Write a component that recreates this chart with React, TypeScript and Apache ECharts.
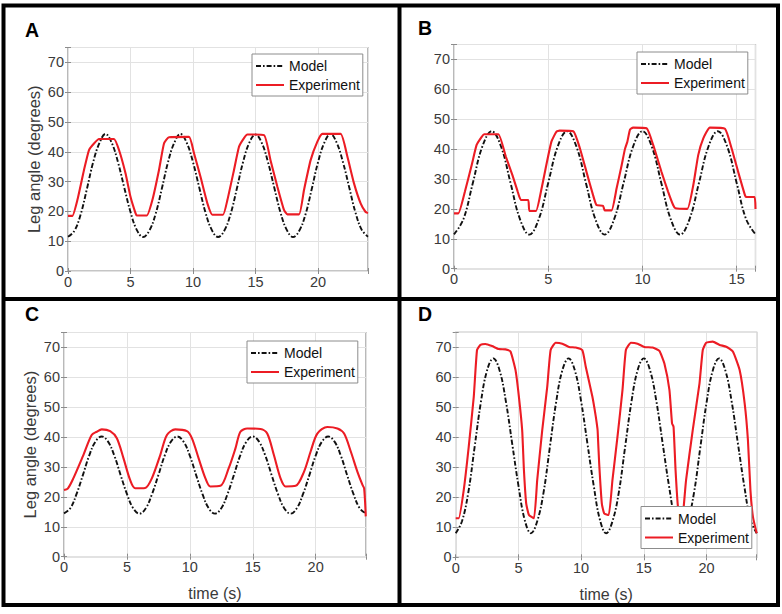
import React, { useEffect, useRef } from "react";
import * as echarts from "echarts";

const FONT = '"Liberation Sans", Arial, Helvetica, sans-serif';

type P = [number, number][];

// ---- Panel A (0–24 s) ----
const modelA: P = [
  [0, 11.5], [0.5, 13.4], [1, 18.8], [1.5, 27.3], [2, 36.3], [2.5, 42.8], [3, 46], [3.5, 43], [4, 36.5], [4.5, 28], [5, 19.8], [5.5, 13.8],
  [6, 11.4], [6.5, 13.5], [7, 19], [7.5, 27.5], [8, 36.5], [8.5, 43], [9, 46], [9.5, 43], [10, 36.5], [10.5, 28], [11, 19.6], [11.5, 13.8],
  [12, 11.4], [12.5, 13.5], [13, 19], [13.5, 27.5], [14, 36.5], [14.5, 43], [15, 45.8], [15.5, 43], [16, 36.5], [16.5, 28], [17, 19.6], [17.5, 13.8],
  [18, 11.4], [18.5, 13.5], [19, 19], [19.5, 27.5], [20, 36.5], [20.5, 43], [21, 46], [21.5, 43], [22, 36.5], [22.5, 28], [23, 19.6], [23.5, 13.8],
  [24, 11.5],
];
const expA: P = [
  [0, 18.5], [0.35, 18.5], [0.75, 23.8], [1.28, 33.9], [1.68, 40.6], [2.08, 42.8], [2.48, 44.3], [3.68, 44.3], [4.08, 40.6], [4.6, 32.8],
  [5.0, 24.9], [5.4, 19.4], [5.5, 18.6], [6.3, 18.6], [6.75, 23.8], [7.28, 33.9], [7.68, 42.8], [8.08, 44.9], [9.68, 45], [10.08, 39.5],
  [10.6, 31.6], [11.15, 22.7], [11.55, 18.9], [12.4, 18.9], [12.75, 23.8], [13.28, 33.9], [13.68, 41.7], [14.08, 44.6], [14.35, 45.8],
  [15.68, 45.6], [16.2, 37.2], [16.75, 28.3], [17.28, 20.5], [17.55, 19], [18.48, 19], [18.88, 27.2], [19.41, 37.2], [19.95, 43.4],
  [20.35, 46], [21.81, 46], [22.35, 38.4], [22.88, 29.4], [23.41, 22.7], [23.81, 19.8], [24, 19.5],
];

// ---- Panel B (0–16 s) ----
const modelB: P = [
  [0, 11.5], [0.5, 16.6], [1, 28.7], [1.5, 40.8], [2, 46], [2.5, 40.8], [3, 28.7], [3.5, 16.6],
  [4, 11.4], [4.5, 16.6], [5, 28.7], [5.5, 40.8], [6, 46], [6.5, 40.8], [7, 28.7], [7.5, 16.6],
  [8, 11.4], [8.5, 16.6], [9, 28.7], [9.5, 40.8], [10, 46], [10.5, 40.8], [11, 28.7], [11.5, 16.6],
  [12, 11.4], [12.5, 16.6], [13, 28.7], [13.5, 40.8], [14, 46], [14.5, 40.8], [15, 28.7], [15.5, 16.6],
  [16, 11.5],
];
const expB: P = [
  [0, 18.5], [0.23, 18.5], [0.58, 25.8], [0.94, 34.7], [1.2, 41.4], [1.47, 44.1], [1.6, 45], [2.35, 45], [2.75, 37.5], [3.1, 31.3],
  [3.38, 25.8], [3.55, 23], [3.94, 23], [4.0, 19.3], [4.35, 19.3], [4.65, 26.9], [4.9, 34.7], [5.17, 42.5], [5.43, 45.8], [5.6, 46.2],
  [6.33, 46], [6.68, 40.3], [7.03, 32.4], [7.38, 24.6], [7.56, 21.3], [7.91, 21], [8.0, 19.5], [8.36, 19.5], [8.63, 26.9], [8.9, 34.7],
  [9.07, 40], [9.2, 42.5], [9.34, 46.5], [9.5, 47.2], [10.22, 47], [10.57, 41.4], [11.01, 32.4], [11.36, 25.8], [11.63, 21.3],
  [11.75, 20.2], [12.38, 20], [12.7, 28], [12.96, 38], [13.23, 43.6], [13.58, 47.2], [14.38, 46.8], [14.73, 40.3], [15.08, 32.4],
  [15.44, 24.6], [15.5, 24], [15.95, 24], [16, 20],
];

// ---- Panel C (0–24 s) ----
const modelC: P = [
  [0, 14.5], [0.5, 16.2], [1, 21], [1.5, 27.3], [2, 33.8], [2.5, 38.5], [3, 40.2], [3.5, 38.5], [4, 33.8], [4.5, 27.3], [5, 21], [5.5, 16.2],
  [6, 14.4], [6.5, 16.2], [7, 21], [7.5, 27.3], [8, 33.8], [8.5, 38.5], [9, 40.2], [9.5, 38.5], [10, 33.8], [10.5, 27.3], [11, 21], [11.5, 16.2],
  [12, 14.4], [12.5, 16.2], [13, 21], [13.5, 27.3], [14, 33.8], [14.5, 38.5], [15, 40.2], [15.5, 38.5], [16, 33.8], [16.5, 27.3], [17, 21], [17.5, 16.2],
  [18, 14.4], [18.5, 16.2], [19, 21], [19.5, 27.3], [20, 33.8], [20.5, 38.5], [21, 40.2], [21.5, 38.5], [22, 33.8], [22.5, 27.3], [23, 21], [23.5, 16.2],
  [24, 14.5],
];
const expC: P = [
  [0, 22.3], [0.3, 22.8], [0.74, 26.2], [1.54, 34], [2.2, 40.7], [2.6, 41.8], [3.0, 42.6], [3.67, 42], [4.2, 39.6], [4.73, 32.9],
  [5.26, 25.6], [5.66, 22.9], [6.45, 23], [6.98, 26.2], [7.65, 34], [8.18, 40.7], [8.84, 42.6], [9.77, 42], [10.17, 39.6], [10.7, 32.9],
  [11.24, 26.2], [11.63, 23.5], [12.43, 23.7], [13.09, 29.6], [13.63, 36.3], [14.02, 41.8], [14.56, 42.9], [15.62, 42.7], [16.15, 41.2],
  [16.68, 34], [17.21, 26.2], [17.61, 23.5], [18.41, 23.7], [19.07, 28.4], [19.6, 35.2], [20.13, 41.2], [20.93, 43.4], [21.73, 42.9],
  [22.26, 41.2], [22.79, 35.2], [23.32, 28.4], [23.72, 24], [23.85, 22.9], [23.98, 13.5],
];

// ---- Panel D (0–24 s) ----
const modelD: P = [
  [0, 8], [0.5, 12], [1, 21.5], [1.5, 36.5], [2, 51.5], [2.5, 62.3], [3, 66.3], [3.5, 62.3], [4, 52], [4.5, 38], [5, 24], [5.5, 12.5],
  [6, 8], [6.5, 12], [7, 21.5], [7.5, 36.5], [8, 51.5], [8.5, 62.3], [9, 66.3], [9.5, 62.3], [10, 52], [10.5, 38], [11, 24], [11.5, 12.5],
  [12, 8], [12.5, 12], [13, 21.5], [13.5, 36.5], [14, 51.5], [14.5, 62.3], [15, 66.3], [15.5, 62.3], [16, 52], [16.5, 38], [17, 24], [17.5, 12.5],
  [18, 8], [18.5, 12], [19, 21.5], [19.5, 36.5], [20, 51.5], [20.5, 62.3], [21, 66.3], [21.5, 62.3], [22, 52], [22.5, 38], [23, 24], [23.5, 12.5],
  [24, 8],
];
const expD: P = [
  [0, 13], [0.24, 13], [0.64, 22.4], [1.04, 36.9], [1.44, 53.5], [1.7, 69.1], [1.97, 70.8], [2.37, 71.1], [2.9, 70.4], [3.44, 69.4],
  [3.97, 69.3], [4.37, 68.6], [4.77, 62.4], [5.04, 53.5], [5.3, 42.4], [5.44, 29.1], [5.62, 18], [5.84, 14.1], [6.24, 13], [6.5, 25.8],
  [6.9, 42.4], [7.3, 56.9], [7.57, 69.1], [7.97, 71.5], [8.5, 71.2], [9.04, 70.1], [9.57, 69.9], [10.1, 69], [10.37, 63.5], [10.9, 53.5],
  [11.17, 46.9], [11.3, 43], [11.32, 42], [11.44, 31.3], [11.65, 18], [11.84, 14.6], [12.2, 14.1], [12.5, 25.8], [12.9, 40.2], [13.3, 55.8],
  [13.57, 69.1], [13.97, 71.5], [14.5, 71.2], [15.04, 70.1], [15.7, 69.9], [16.24, 68.8], [16.64, 64.6], [17.04, 55.8], [17.25, 44.6],
  [17.37, 43.5], [17.53, 29.1], [17.72, 16.9], [17.95, 13], [18.1, 13.5], [18.37, 25.8], [18.9, 42.4], [19.44, 58], [19.7, 69.1],
  [19.97, 71.5], [20.5, 71.9], [21.04, 70.8], [21.57, 70.2], [22.1, 68.6], [22.64, 62.4], [23.04, 51.3], [23.3, 39.1], [23.5, 22.4],
  [23.7, 13.5], [24, 8],
];

const seriesNames = ["Model", "Experiment"];
const panelLetters = ["A", "B", "C", "D"];
const xMaxes = [24, 16, 24, 24];
const Y_MAX = 75;
const yLabelText = "Leg angle (degrees)";
const xLabelText = "time (s)";

// layout (pixels)
const layout = [
  { grid: { left: 68, top: 47.5, width: 300, height: 223.5 }, legend: { left: 252, top: 54 }, letter: [25, 30], yName: true, xName: false },
  { grid: { left: 454, top: 44.5, width: 301.5, height: 224.2 }, legend: { left: 637, top: 52 }, letter: [418, 27.5], yName: false, xName: false },
  { grid: { left: 64, top: 332.5, width: 302, height: 224.2 }, legend: { left: 247, top: 341 }, letter: [25, 313.5], yName: true, xName: true },
  { grid: { left: 455.7, top: 332.3, width: 301, height: 225 }, legend: { left: 641, top: 506.5 }, letter: [418, 313.5], yName: false, xName: true },
];

const data = [
  [modelA, expA],
  [modelB, expB],
  [modelC, expC],
  [modelD, expD],
];

const AX = "#8c8c8c";
const GRIDC = "#e2e2e2";
const TXT = "#3a3a3a";

export default function App() {
  const ref = useRef<HTMLDivElement>(null);
  useEffect(() => {
    if (!ref.current) return;
    const chart = echarts.init(ref.current, undefined, { renderer: "svg" });

    const grids: any[] = [];
    const xAxes: any[] = [];
    const yAxes: any[] = [];
    const series: any[] = [];
    const legends: any[] = [];
    const graphics: any[] = [];

    layout.forEach((L, i) => {
      grids.push({ ...L.grid, show: true, borderColor: AX, borderWidth: 1.2, backgroundColor: "#fff", containLabel: false });
      const tick = { show: true, inside: true, length: 3, lineStyle: { color: AX, width: 1 } };
      xAxes.push({
        type: "value", gridIndex: i, min: 0, max: xMaxes[i], interval: 5, position: "bottom",
        axisLine: { show: false }, axisTick: tick,
        axisLabel: { margin: 3, fontSize: 14.5, color: TXT, fontFamily: FONT, formatter: (v: number) => (v % 5 === 0 ? String(v) : "") },
        splitLine: { show: true, lineStyle: { color: GRIDC, width: 1 } },
        name: L.xName ? xLabelText : "", nameLocation: "middle", nameGap: 29,
        nameTextStyle: { fontSize: 16, color: TXT, fontFamily: FONT },
      });
      xAxes.push({
        type: "value", gridIndex: i, min: 0, max: xMaxes[i], interval: 5, position: "top",
        axisLine: { show: false }, axisTick: tick, axisLabel: { show: false }, splitLine: { show: false },
      });
      yAxes.push({
        type: "value", gridIndex: i, min: 0, max: Y_MAX, interval: 10, position: "left",
        axisLine: { show: false }, axisTick: tick,
        axisLabel: { margin: 4, fontSize: 14.5, color: TXT, fontFamily: FONT, formatter: (v: number) => (v % 10 === 0 ? String(v) : "") },
        splitLine: { show: true, lineStyle: { color: GRIDC, width: 1 } },
        name: L.yName ? yLabelText : "", nameLocation: "middle", nameRotate: 90, nameGap: 26,
        nameTextStyle: { fontSize: 16.5, color: TXT, fontFamily: FONT },
      });
      yAxes.push({
        type: "value", gridIndex: i, min: 0, max: Y_MAX, interval: 10, position: "right",
        axisLine: { show: false }, axisTick: tick, axisLabel: { show: false }, splitLine: { show: false },
      });
      const [model, exp] = data[i];
      series.push({
        type: "line", name: seriesNames[0], xAxisIndex: 2 * i, yAxisIndex: 2 * i, data: model,
        symbol: "none", smooth: 0.4, z: 2,
        lineStyle: { color: "#111", width: 1.9, type: [5, 2, 1.6, 2] }, itemStyle: { color: "#111" },
      });
      series.push({
        type: "line", name: seriesNames[1], xAxisIndex: 2 * i, yAxisIndex: 2 * i, data: exp,
        symbol: "none", smooth: i === 2 ? 0.3 : 0.15, z: 2,
        lineStyle: { color: "#ec1c24", width: 2.1 }, itemStyle: { color: "#ec1c24" },
      });
      legends.push({
        data: seriesNames, orient: "vertical", left: L.legend.left, top: L.legend.top,
        itemWidth: 28, itemHeight: 14, itemGap: 5, padding: [5, 3, 4, 3], z: 10,
        backgroundColor: "#fff", borderColor: AX, borderWidth: 1, borderRadius: 0,
        itemStyle: { opacity: 0, borderWidth: 0 },
        textStyle: { fontSize: 14, color: "#111", fontFamily: FONT },
        selectedMode: false,
      });
      graphics.push({
        type: "text", x: L.letter[0], y: L.letter[1],
        style: { text: panelLetters[i], fontSize: 19.5, fontWeight: "bold", fill: "#000", fontFamily: FONT, verticalAlign: "middle" },
      });
    });

    graphics.push({ type: "rect", shape: { x: 3.5, y: 5.5, width: 774.5, height: 599.5 }, style: { fill: "none", stroke: "#000", lineWidth: 4 } });
    graphics.push({ type: "line", shape: { x1: 399.5, y1: 5.5, x2: 399.5, y2: 605 }, style: { stroke: "#000", lineWidth: 4 } });
    graphics.push({ type: "line", shape: { x1: 3.5, y1: 299, x2: 778, y2: 299 }, style: { stroke: "#000", lineWidth: 4 } });

    chart.setOption({
      animation: false,
      backgroundColor: "#fff",
      grid: grids,
      xAxis: xAxes,
      yAxis: yAxes,
      legend: legends,
      series,
      graphic: graphics,
    });
    return () => chart.dispose();
  }, []);
  return <div ref={ref} style={{ position: "absolute", left: 0, top: 0, width: 782, height: 614 }} />;
}
